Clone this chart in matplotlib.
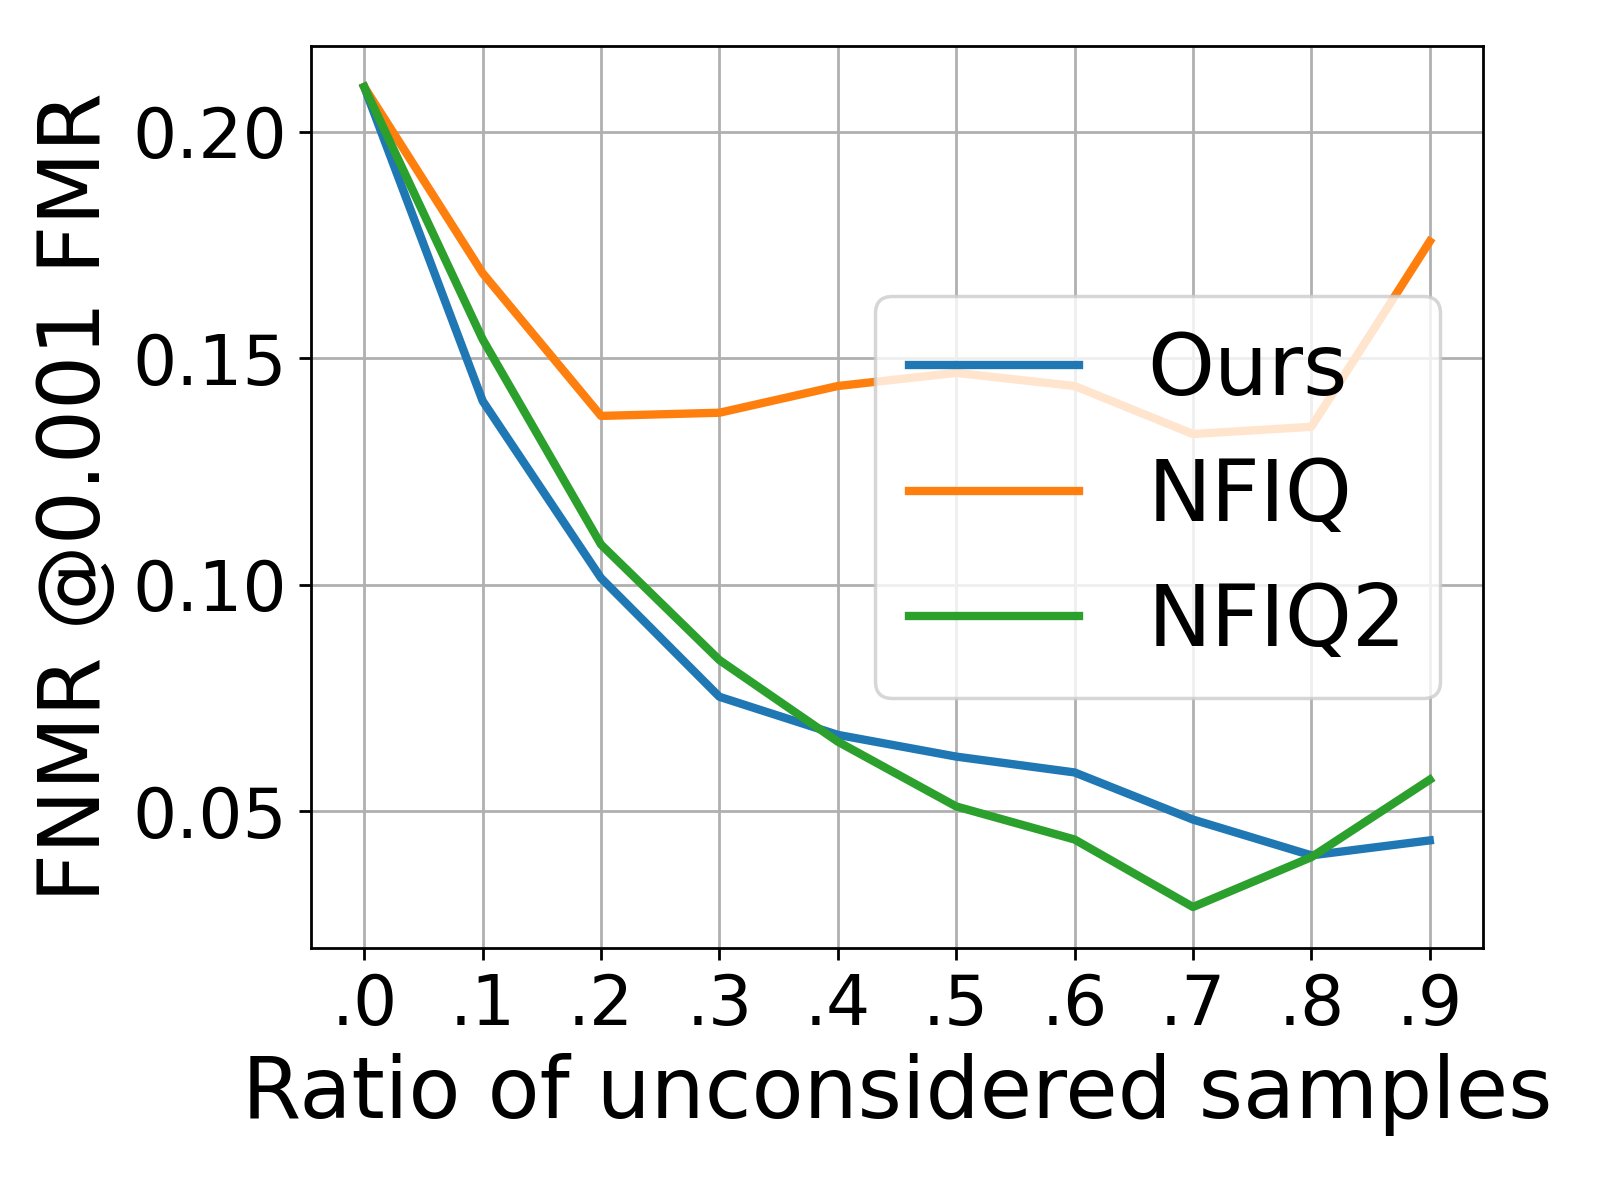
import matplotlib
matplotlib.use("Agg")
import matplotlib.pyplot as plt

ratios = [0.0, 0.1, 0.2, 0.3, 0.4, 0.5, 0.6, 0.7, 0.8, 0.9]
xtick_labels = [".0", ".1", ".2", ".3", ".4", ".5", ".6", ".7", ".8", ".9"]
ours = [0.2099, 0.1406, 0.1015, 0.0753, 0.0669, 0.0621, 0.0586, 0.0482, 0.0403, 0.0436]
nfiq = [0.2099, 0.1688, 0.1373, 0.1380, 0.1439, 0.1468, 0.1439, 0.1333, 0.1349, 0.1758]
nfiq2 = [0.2099, 0.1542, 0.1089, 0.0834, 0.0654, 0.0511, 0.0438, 0.0289, 0.0399, 0.0570]
yticks = [0.05, 0.10, 0.15, 0.20]

fig = plt.figure(figsize=(6.4, 4.8), dpi=250)
ax = fig.add_axes([311/1600, 1 - 948/1200, (1483-311)/1600, (948-46)/1200])
ax.plot(ratios, ours, label="Ours", color="#1f77b4", lw=2.4)
ax.plot(ratios, nfiq, label="NFIQ", color="#ff7f0e", lw=2.4)
ax.plot(ratios, nfiq2, label="NFIQ2", color="#2ca02c", lw=2.4)
ax.set_xticks(ratios)
ax.set_xticklabels(xtick_labels)
ax.set_yticks(yticks)
ax.tick_params(labelsize=20)
ax.grid(True)
ax.set_xlabel("Ratio of unconsidered samples", fontsize=24.5)
ax.set_ylabel("FNMR @0.001 FMR", fontsize=24.5)
ax.legend(loc="center right", fontsize=24.5)
fig.savefig("out.png", dpi=250)
